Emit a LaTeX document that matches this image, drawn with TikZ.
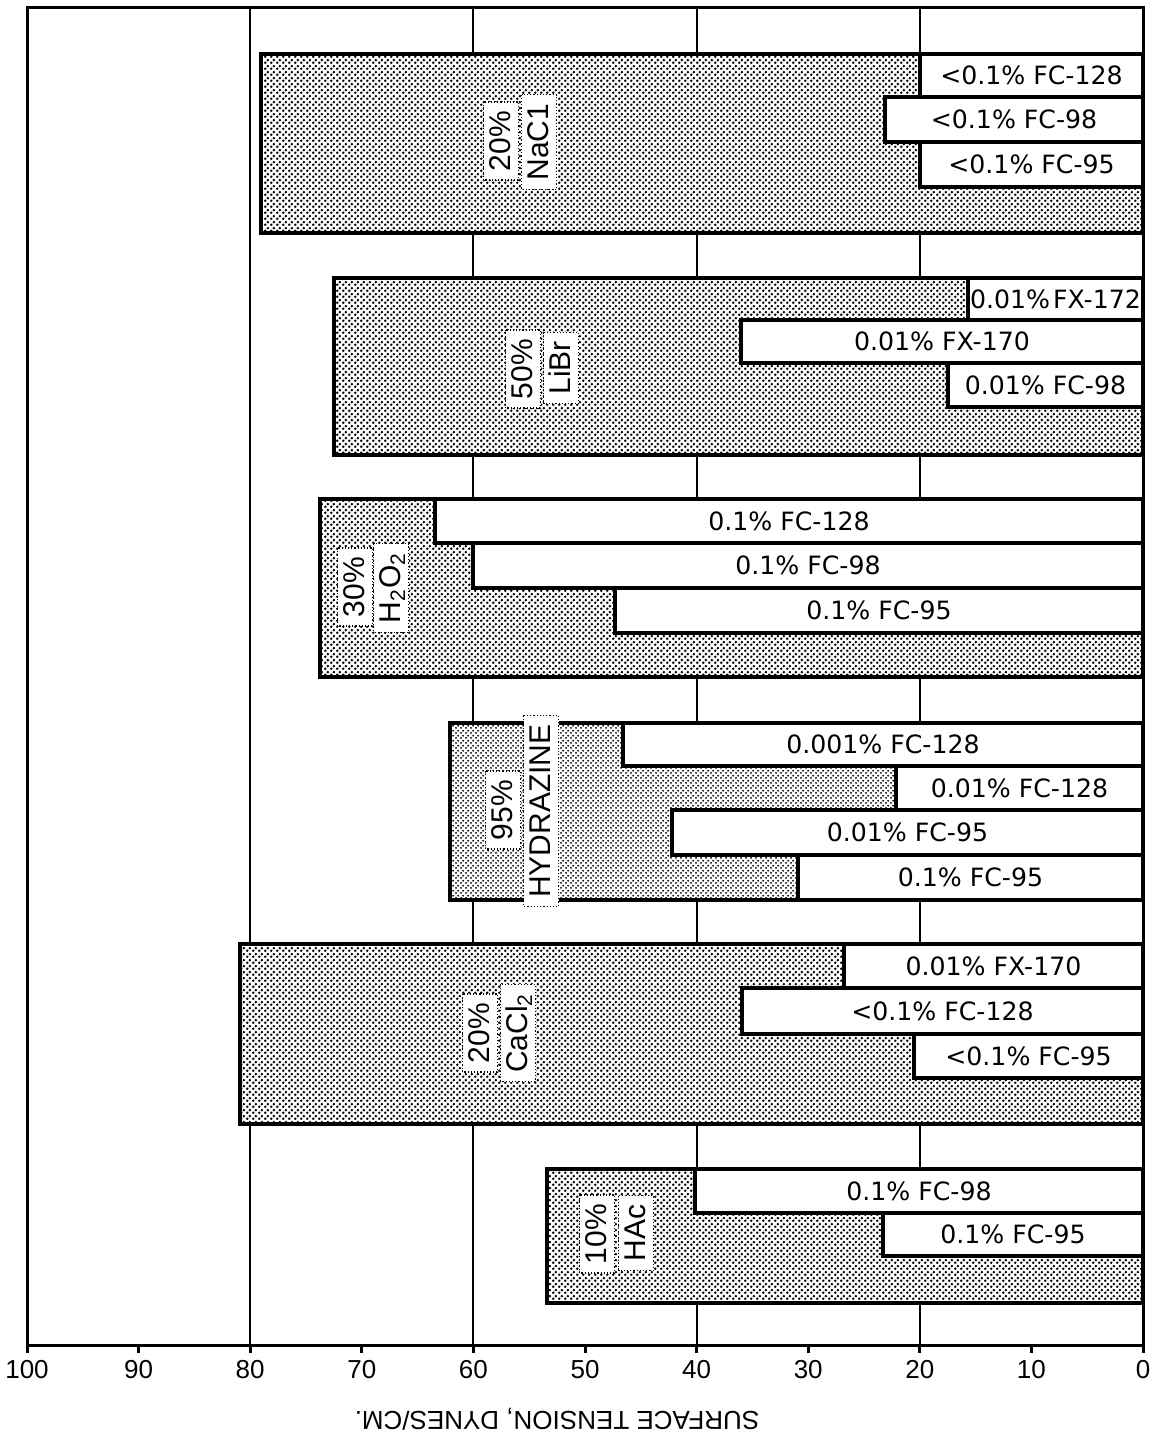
\documentclass[tikz,border=0pt]{standalone}
\usepackage{fontspec}
\setmainfont{Liberation Sans}
\newfontfamily\barfont{DejaVu Sans}
\usetikzlibrary{patterns}
\pgfdeclarepatternformonly{halftone}{\pgfqpoint{0pt}{0pt}}{\pgfqpoint{3pt}{3pt}}{\pgfqpoint{3pt}{3pt}}{%
  \pgfpathcircle{\pgfqpoint{0.75pt}{0.75pt}}{0.8pt}%
  \pgfpathcircle{\pgfqpoint{2.25pt}{2.25pt}}{0.8pt}%
  \pgfusepath{fill}}
\pgfdeclarepatternformonly{finetone}{\pgfqpoint{0pt}{0pt}}{\pgfqpoint{2.5pt}{2.5pt}}{\pgfqpoint{2.5pt}{2.5pt}}{%
  \pgfpathcircle{\pgfqpoint{0.625pt}{0.625pt}}{0.6pt}%
  \pgfpathcircle{\pgfqpoint{1.875pt}{1.875pt}}{0.6pt}%
  \pgfusepath{fill}}
\tikzset{
  frameline/.style={line width=1.5pt},
  gridln/.style={line width=1pt},
  bigbar/.style={draw, line width=1.6pt, preaction={fill=white}, pattern=halftone},
  lightbar/.style={draw, line width=1.6pt, preaction={fill=white}, pattern=finetone},
  wbar/.style={draw, line width=1.6pt, fill=white},
  wtext/.style={font=\barfont\fontsize{12.6}{14}\selectfont, inner sep=0pt},
  sublabel/.style={rotate=90, fill=white, draw, densely dotted, line width=0.6pt,
    font=\fontsize{15}{17}\selectfont, text height=10.8pt, text depth=1.5pt,
    inner xsep=4.5pt, inner ysep=2.6pt},
  ticklabel/.style={font=\fontsize{13}{15}\selectfont, anchor=north, inner sep=0pt},
}
\newcommand{\wb}[5]{%
  \draw[wbar] (#2,#3) rectangle (1143,#4);
  \node[wtext] (#1) at ({(#2+1143)/2},{(#3+#4)/2}) {#5};}
\begin{document}
\begin{tikzpicture}[x=0.5pt,y=-0.5pt]
\useasboundingbox (0,0) rectangle (1153,1444);
% grid lines
\foreach \v in {80,60,40,20}
  \draw[gridln] ({1143-11.16*\v},8) -- ({1143-11.16*\v},1345);
% frame
\draw[frameline] (27,1345) -- (27,8) -- (1143,8) -- (1143,1345) -- cycle;
% ticks and labels
\foreach \k in {0,...,10}{
  \pgfmathtruncatemacro{\lab}{100-10*\k}
  \draw[frameline] ({27+111.6*\k},1345) -- ({27+111.6*\k},1353)
     node[ticklabel, yshift=-3pt] (t\k) {\lab};
}
\node[rotate=180, font=\fontsize{13}{15}\selectfont] (title) at (557,1419) {SURFACE TENSION, DYNES/CM.};

% ---- NaCl
\draw[bigbar] (261,54) rectangle (1143,233);
\wb{a1}{920}{54}{97}{<0.1\% FC-128}
\wb{a2}{885}{97}{142}{<0.1\% FC-98}
\wb{a3}{920}{142}{187}{<0.1\% FC-95}
\node[sublabel] (a4) at (501,141) {20\%};
\node[sublabel] (a5) at (539,142) {NaC1};

% ---- LiBr
\draw[bigbar] (334,278) rectangle (1143,455);
\wb{b1}{968}{278}{320}{0.01\%\kern1.5pt FX-172}
\wb{b2}{741}{320}{363}{0.01\% FX-170}
\wb{b3}{948}{363}{407}{0.01\% FC-98}
\node[sublabel] (b4) at (523,369) {50\%};
\node[sublabel] (b5) at (561,368) {LiBr};

% ---- H2O2
\draw[bigbar] (320,499) rectangle (1143,677);
\wb{c1}{435}{499}{543}{0.1\% FC-128}
\wb{c2}{473}{543}{588}{0.1\% FC-98}
\wb{c3}{615}{588}{633}{0.1\% FC-95}
\node[sublabel] (c4) at (355,587) {30\%};
\node[sublabel] (c5) at (391,588) {H\textsubscript{2}O\textsubscript{2}};

% ---- Hydrazine
\draw[lightbar] (450,723) rectangle (1143,900);
\wb{d1}{623}{723}{766}{0.001\% FC-128}
\wb{d2}{896}{766}{810}{0.01\% FC-128}
\wb{d3}{672}{810}{855}{0.01\% FC-95}
\wb{d4}{798}{855}{900}{0.1\% FC-95}
\node[sublabel] (d5) at (503,810) {95\%};
\node[sublabel] (d6) at (541,811) {HYDRAZINE};

% ---- CaCl2
\draw[bigbar] (240,944) rectangle (1143,1124);
\wb{e1}{844}{944}{988}{0.01\% FX-170}
\wb{e2}{742}{988}{1034}{<0.1\% FC-128}
\wb{e3}{914}{1034}{1078}{<0.1\% FC-95}
\node[sublabel] (e4) at (480,1033) {20\%};
\node[sublabel] (e5) at (518,1033) {CaCl\textsubscript{2}};

% ---- HAc
\draw[bigbar] (547,1169) rectangle (1143,1303);
\wb{f1}{695}{1169}{1213}{0.1\% FC-98}
\wb{f2}{883}{1213}{1256}{0.1\% FC-95}
\node[sublabel] (f3) at (597,1234) {10\%};
\node[sublabel] (f4) at (636,1233) {HAc};
\end{tikzpicture}
\end{document}
